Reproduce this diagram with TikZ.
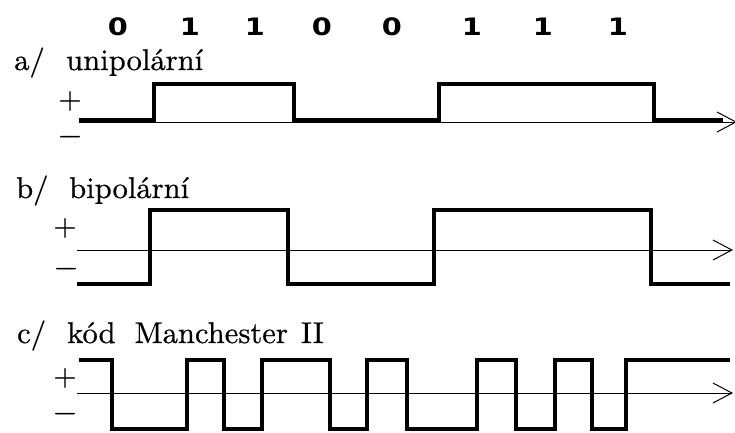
\documentclass[tikz,border=0pt]{standalone}
\usepackage{fontspec}
\newfontfamily\digitfont{DejaVu Sans}[FakeStretch=1.2]
\newfontfamily\lblfont{lmroman10-regular.otf}[FakeBold=0.6,FakeStretch=1.02]
\usetikzlibrary{arrows.meta}
\tikzset{
  sig/.style={line width=4pt, line join=miter, line cap=butt},
  axisline/.style={line width=1pt, -{Straight Barb[length=19pt,width=20pt,line width=1pt]}},
  bitlbl/.style={inner sep=0pt, anchor=base, font=\digitfont\bfseries\fontsize{24}{28}\selectfont},
  lbl/.style={inner sep=0pt, anchor=base west, font=\lblfont\fontsize{30}{34}\selectfont},
  pm/.style={inner sep=0pt, anchor=center, font=\lblfont\fontsize{29.5}{34}\selectfont}
}
\begin{document}
\begin{tikzpicture}[x=1pt,y=-1pt]
\useasboundingbox (0,0) rectangle (735,432);
% bits
\node[bitlbl] (b1) at (118,35) {0};
\node[bitlbl] (b2) at (190,35) {1};
\node[bitlbl] (b3) at (255,35) {1};
\node[bitlbl] (b4) at (322,35) {0};
\node[bitlbl] (b5) at (392,35) {0};
\node[bitlbl] (b6) at (472,35) {1};
\node[bitlbl] (b7) at (543,35) {1};
\node[bitlbl] (b8) at (618,35) {1};
% a
\node[lbl] (la) at (14,70) {a/};
\node[lbl] (ta) at (66,70) {unipolární};
\node[pm] (pa) at (70,101) {+};
\node[pm] (ma) at (70,140) {−};
\coordinate (a0) at (79,122);
\coordinate (a1) at (737,122);
\draw[axisline] (a0) -- (a1);
\draw[sig] (79,120) -- (153.5,120) -- (153.5,84) -- (293.5,84) -- (293.5,120) -- (438.5,120) -- (438.5,84) -- (653.5,84) -- (653.5,120) -- (723,120);
% b
\node[lbl] (lb) at (16,198) {b/};
\node[lbl] (tb) at (69,198) {bipolární};
\node[pm] (pb) at (65,228) {+};
\node[pm] (mb) at (66,272) {−};
\coordinate (b0) at (77,250);
\coordinate (b9) at (733,250);
\draw[axisline] (b0) -- (b9);
\draw[sig] (77,284) -- (150,284) -- (150,210) -- (288,210) -- (288,284) -- (434,284) -- (434,210) -- (651,210) -- (651,284) -- (730,284);
% c
\node[lbl] (lc) at (17,343) {c/};
\node[lbl] (tc) at (67,343) {kód\hspace{19pt}Manchester\hspace{13pt}II};
\node[pm] (pc) at (65,378) {+};
\node[pm] (mc) at (65,417) {−};
\coordinate (c0) at (77,393);
\coordinate (c9) at (733,393);
\draw[axisline] (c0) -- (c9);
\draw[sig] (79,360) -- (112,360) -- (112,429) -- (187,429) -- (187,360) -- (224,360) -- (224,429) -- (262,429) -- (262,360) -- (330,360) -- (330,429) -- (367,429) -- (367,360) -- (407,360) -- (407,429) -- (477,429) -- (477,360) -- (516,360) -- (516,429) -- (555,429) -- (555,360) -- (592,360) -- (592,429) -- (626,429) -- (626,360) -- (730,360);
\end{tikzpicture}
\end{document}
